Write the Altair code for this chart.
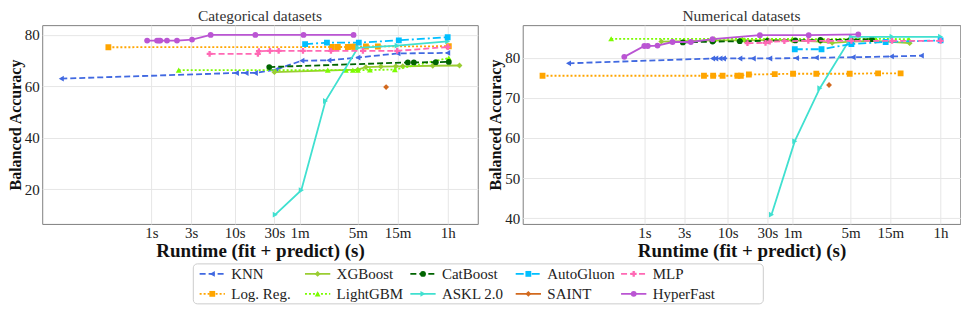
import altair as alt
import pandas as pd

FONT = "Liberation Serif"

# ---------------- axis ticks ----------------
x_ticks = [1, 3, 10, 30, 60, 300, 900, 3600]
x_tick_labels = ["1s", "3s", "10s", "30s", "1m", "5m", "15m", "1h"]
cat_y_ticks = [20, 40, 60, 80]
num_y_ticks = [40, 50, 60, 70, 80]

# ---------------- methods / styles ----------------
methods = ["KNN", "Log. Reg.", "XGBoost", "LightGBM", "CatBoost",
           "ASKL 2.0", "AutoGluon", "SAINT", "MLP", "HyperFast"]
colors = ["#4169E1", "#FFA500", "#9ACD32", "#7CFC00", "#006400",
          "#40E0D0", "#00BFFF", "#D2691E", "#FF69B4", "#BA55D3"]
shapes = ["triangle-left", "square", "diamond", "triangle-up", "circle",
          "triangle-right", "square", "diamond", "cross", "circle"]
dashes = [[6, 3], [2, 2], [1, 0], [2, 2], [6, 3],
          [1, 0], [8, 3, 2, 3], [1, 0], [6, 3], [1, 0]]

# ---------------- Categorical datasets ----------------
cat_knn_t = [0.083, 10.5, 13.7, 17.7, 31.3, 64, 135, 301, 910, 3600]
cat_knn_v = [63.0, 65.2, 65.2, 65.2, 66.5, 70.0, 70.1, 71.2, 72.8, 73.0]
cat_lr_t = [0.305, 147, 173, 228, 262, 277, 376, 523, 3715]
cat_lr_v = [75.2, 75.3, 75.3, 75.3, 75.4, 75.4, 75.5, 75.5, 75.6]
cat_xgb_t = [30, 300, 376, 568, 859, 1040, 2384, 4990]
cat_xgb_v = [65.5, 66.5, 67.5, 67.7, 67.8, 67.8, 68.0, 68.1]
cat_lgbm_t = [2.13, 131, 216, 262, 301, 420, 836, 3715]
cat_lgbm_v = [66.3, 66.3, 66.3, 66.3, 66.3, 66.4, 66.5, 71.0]
cat_cat_t = [26, 1197, 1413, 2593, 3715]
cat_cat_v = [67.5, 69.3, 69.3, 69.4, 69.5]
cat_askl_t = [30.7, 63, 123, 301, 891, 3600]
cat_askl_v = [10.1, 19.6, 54.3, 75.0, 75.8, 77.5]
cat_ag_t = [70, 128, 309, 933, 3600]
cat_ag_v = [76.4, 77.0, 77.0, 77.9, 79.1]
cat_saint_t = [657]
cat_saint_v = [59.7]
cat_mlp_t = [5.0, 19, 19.5, 26.5, 33.7, 66, 143, 346, 891, 3605]
cat_mlp_v = [72.6, 72.6, 73.7, 73.8, 73.8, 73.8, 73.8, 73.8, 73.8, 75.3]
cat_hf_t = [0.89, 1.17, 1.23, 1.28, 1.54, 2.03, 3.08, 5.15, 17.7, 67, 267]
cat_hf_v = [77.8, 77.8, 77.8, 77.8, 77.8, 77.8, 78.2, 80.0, 80.0, 80.0, 80.0]

# ---------------- Numerical datasets ----------------
num_knn_t = [0.123, 6.6, 7.2, 8.1, 8.9, 14, 20.3, 32, 67, 116, 321, 923, 2113]
num_knn_v = [78.6, 79.8, 79.8, 79.8, 79.8, 79.8, 79.8, 79.8, 79.9, 80.0, 80.1, 80.3, 80.5]
num_lr_t = [0.060, 5.2, 6.7, 8.7, 13.1, 14.4, 18, 36.8, 61, 116, 292, 640, 1193]
num_lr_v = [75.5, 75.5, 75.5, 75.5, 75.5, 75.5, 75.8, 75.9, 76.0, 76.0, 76.0, 76.1, 76.1]
num_xgb_t = [1.6, 3, 7, 16, 30, 60, 130, 180, 300, 600, 1530]
num_xgb_v = [84.0, 84.1, 84.3, 84.3, 84.4, 84.3, 84.0, 83.7, 84.0, 84.2, 83.6]
num_lgbm_t = [0.40, 7, 15, 30, 60, 130, 300, 600, 1500]
num_lgbm_v = [84.7, 84.7, 84.7, 84.7, 84.7, 84.6, 84.7, 84.7, 84.6]
num_cat_t = [2.9, 6.6, 14, 30, 65, 130, 300, 540]
num_cat_v = [83.8, 84.0, 84.1, 84.2, 84.3, 84.4, 84.5, 84.6]
num_askl_t = [33.6, 64, 128, 306, 942, 3600]
num_askl_v = [40.9, 59.2, 72.4, 85.2, 85.2, 85.2]
num_ag_t = [64, 134, 306, 789, 3600]
num_ag_v = [82.1, 82.1, 83.4, 83.9, 84.3]
num_saint_t = [165]
num_saint_v = [73.2]
num_mlp_t = [17.3, 28.5, 32, 48, 93, 162, 306, 942, 3600]
num_mlp_v = [83.6, 83.7, 84.0, 84.1, 84.2, 84.2, 84.2, 84.2, 84.2]
num_hf_t = [0.575, 1.0, 1.1, 1.44, 2.18, 3.62, 6.6, 24.4, 94, 370]
num_hf_v = [80.2, 82.9, 82.9, 83.0, 83.9, 83.9, 84.6, 85.6, 85.6, 85.8]

cat_series = [(cat_knn_t, cat_knn_v), (cat_lr_t, cat_lr_v), (cat_xgb_t, cat_xgb_v),
              (cat_lgbm_t, cat_lgbm_v), (cat_cat_t, cat_cat_v), (cat_askl_t, cat_askl_v),
              (cat_ag_t, cat_ag_v), (cat_saint_t, cat_saint_v), (cat_mlp_t, cat_mlp_v),
              (cat_hf_t, cat_hf_v)]
num_series = [(num_knn_t, num_knn_v), (num_lr_t, num_lr_v), (num_xgb_t, num_xgb_v),
              (num_lgbm_t, num_lgbm_v), (num_cat_t, num_cat_v), (num_askl_t, num_askl_v),
              (num_ag_t, num_ag_v), (num_saint_t, num_saint_v), (num_mlp_t, num_mlp_v),
              (num_hf_t, num_hf_v)]

label_expr = " : ".join(
    f"datum.value == {v} ? '{l}'" for v, l in zip(x_ticks, x_tick_labels)
) + " : ''"


def panel(series, title, xdomain, ydomain, yticks, width):
    xenc = alt.X("t:Q",
                 scale=alt.Scale(type="log", domain=xdomain, nice=False),
                 axis=alt.Axis(values=x_ticks, labelExpr=label_expr,
                               title="Runtime (fit + predict) (s)"))
    yenc = alt.Y("v:Q",
                 scale=alt.Scale(domain=ydomain, nice=False, zero=False),
                 axis=alt.Axis(values=yticks, title="Balanced Accuracy"))
    layers = []
    for i, (t, v) in enumerate(series):
        df = pd.DataFrame({"t": t, "v": v, "m": methods[i]})
        base = alt.Chart(df)
        line_kw = dict(color=colors[i], strokeWidth=1.8, clip=True)
        if dashes[i] != [1, 0]:
            line_kw["strokeDash"] = dashes[i]
        layers.append(base.mark_line(**line_kw).encode(x=xenc, y=yenc))
        layers.append(base.mark_point(shape=shapes[i], filled=True, size=34,
                                      color=colors[i], opacity=1, clip=True)
                      .encode(x=xenc, y=yenc))
    return alt.layer(*layers).properties(
        width=width, height=199,
        title=alt.TitleParams(title, font=FONT, fontSize=15.5, fontWeight="normal",
                              color="#333", offset=1),
    )


left = panel(cat_series, "Categorical datasets", [0.049, 8265], [6.5, 83.8], cat_y_ticks, 436)
right = panel(num_series, "Numerical datasets", [0.0347, 6200], [38.6, 88.1], num_y_ticks, 438)

# ---------------- manual legend ----------------
leg_x_domain = [-0.06, 5.35]      # legend frame extent in column units
leg_shift = 0.22                  # extra empty room on the right (column units)
leg = pd.DataFrame({
    "name": methods,
    "col": [i // 2 for i in range(len(methods))],
    "row": [i % 2 for i in range(len(methods))],
})
frame = pd.DataFrame({"x0": [leg_x_domain[0]], "x1": [leg_x_domain[1]],
                      "y0": [-0.5], "y1": [1.5]})
col_px = 571 / (leg_x_domain[1] - leg_x_domain[0])
lx = alt.Scale(domain=[leg_x_domain[0], leg_x_domain[1] + 2 * leg_shift], nice=False, zero=False)
ly = alt.Scale(domain=[-0.5, 1.5], nice=False, zero=False, reverse=True)
lbase = alt.Chart(leg).transform_calculate(
    x0="datum.col", x1="datum.col + 0.24", xm="datum.col + 0.12", xt="datum.col + 0.3"
)
cscale = alt.Scale(domain=methods, range=colors)
leg_frame = alt.Chart(frame).mark_rect(
    fill="white", fillOpacity=0, stroke="#cccccc", strokeWidth=1, cornerRadius=4
).encode(
    x=alt.X("x0:Q", scale=lx, axis=None), x2="x1:Q",
    y=alt.Y("y0:Q", scale=ly, axis=None), y2="y1:Q",
)
leg_rule = lbase.mark_rule(strokeWidth=1.8).encode(
    x=alt.X("x0:Q", scale=lx, axis=None),
    x2="x1:Q",
    y=alt.Y("row:Q", scale=ly, axis=None),
    color=alt.Color("name:N", scale=cscale, legend=None),
    strokeDash=alt.StrokeDash("name:N", scale=alt.Scale(domain=methods, range=dashes), legend=None),
)
leg_pt = lbase.mark_point(filled=True, size=34, opacity=1).encode(
    x=alt.X("xm:Q", scale=lx, axis=None),
    y=alt.Y("row:Q", scale=ly, axis=None),
    color=alt.Color("name:N", scale=cscale, legend=None),
    shape=alt.Shape("name:N", scale=alt.Scale(domain=methods, range=shapes), legend=None),
)
leg_txt = lbase.mark_text(align="left", baseline="middle", font=FONT, fontSize=15,
                          color="#222").encode(
    x=alt.X("xt:Q", scale=lx, axis=None),
    y=alt.Y("row:Q", scale=ly, axis=None),
    text="name:N",
)
legend = alt.layer(leg_frame, leg_rule, leg_pt, leg_txt).properties(
    width=round(571 + 2 * leg_shift * col_px), height=40,
    view=alt.ViewBackground(stroke=None),
)

top = alt.hconcat(left, right, spacing=8).resolve_scale(x="independent", y="independent")

chart = alt.vconcat(top, legend, spacing=1, center=True).properties(
    padding={"left": -2, "top": 0, "right": 0, "bottom": 0}
).configure_view(
    stroke="#808080", strokeWidth=1
).configure_axis(
    labelFont=FONT, labelFontSize=15, labelColor="#222",
    titleFont=FONT, titleFontSize=19, titleFontWeight="bold", titleColor="#111",
    grid=True, gridColor="#e6e6e6", gridWidth=1,
    ticks=False, domain=False, labelPadding=2, titlePadding=1,
).configure_axisY(
    titleFontSize=16, labelPadding=3, titlePadding=1,
)

chart.save("out.html", embed_options={"renderer": "svg", "actions": False})
